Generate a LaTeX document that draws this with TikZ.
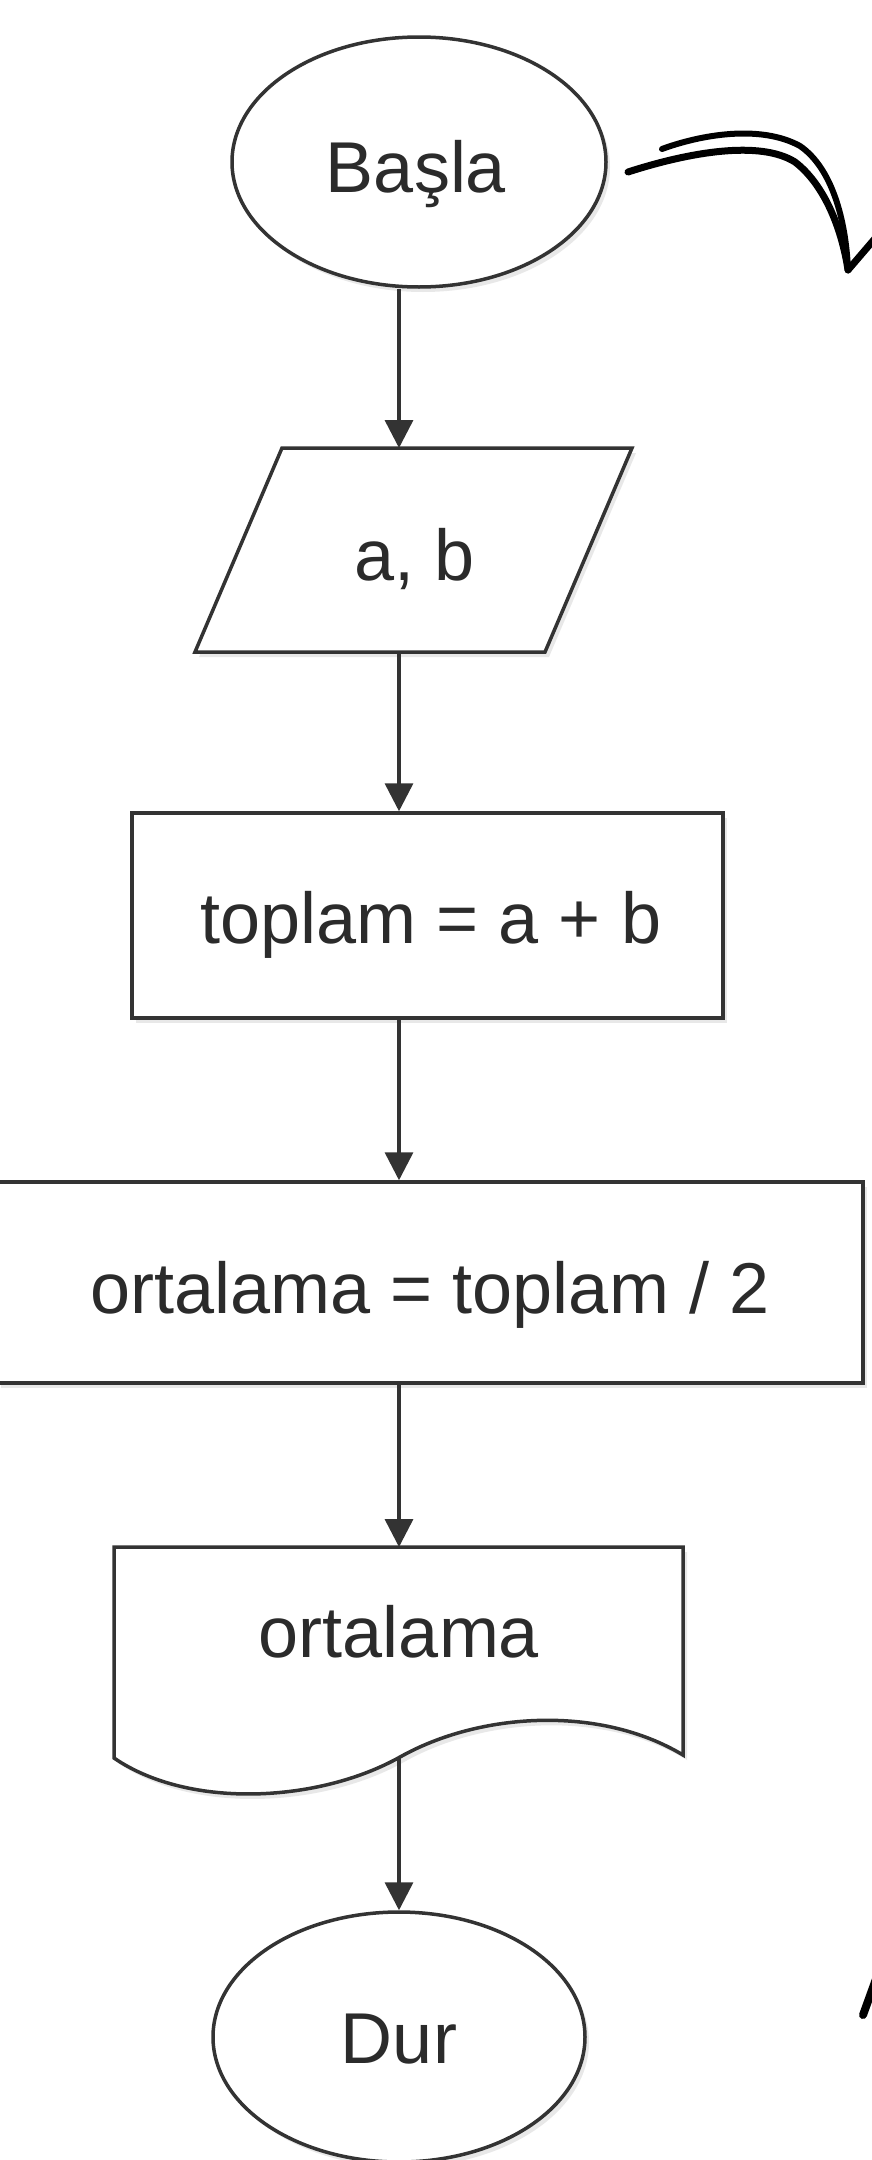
\documentclass[tikz,border=0pt]{standalone}
\usepackage{fontspec}
\setmainfont{Liberation Sans}
\usetikzlibrary{arrows.meta,shapes.geometric,shadows}
\definecolor{edge}{HTML}{333333}
\definecolor{txt}{HTML}{2B2B2B}
\begin{document}
\begin{tikzpicture}[x=1pt,y=-1pt,
  shp/.style={draw=edge, line width=3.5pt, fill=white, drop shadow={opacity=0.18, shadow xshift=4pt, shadow yshift=-5pt}},
  lbl/.style={text=txt, font=\fontsize{72}{80}\selectfont, inner sep=0pt, anchor=base},
  conn/.style={draw=edge, line width=3.5pt, -{Triangle[width=28pt,length=28pt]}},
  pen/.style={draw=black, line width=7pt, line cap=round, line join=round}]
\fill[white] (0,0) rectangle (872,2160);
\useasboundingbox (0,0) rectangle (872,2160);
\clip (0,0) rectangle (872,2160);

% shapes
\node[shp, ellipse, minimum width=374pt, minimum height=250pt, inner sep=0pt] (basla) at (419,162) {};
\node[minimum width=350pt, minimum height=204pt, inner sep=0pt, outer sep=0pt] (ab) at (413,550) {};
\path[shp] (282,448) -- (632,448) -- (545,652) -- (195,652) -- cycle;
\node[shp, rectangle, minimum width=591pt, minimum height=205pt, inner sep=0pt] (top) at (427.5,915.5) {};
\node[shp, rectangle, minimum width=866pt, minimum height=201pt, inner sep=0pt] (ort) at (430,1282.5) {};
\node[minimum width=569pt, minimum height=210pt, inner sep=0pt, outer sep=0pt] (doc) at (398.5,1652) {};
\path[shp] (114,1547) -- (683,1547) -- (683,1755)
  .. controls (600,1705) and (480,1712) .. (400,1757)
  .. controls (320,1802) and (190,1810) .. (114,1758) -- cycle;
\coordinate (wv) at (399,1757);
\node[shp, ellipse, minimum width=372pt, minimum height=250pt, inner sep=0pt] (dur) at (399,2037) {};

% connectors
\draw[conn] (basla.south -| dur.north) -- (ab.north -| dur.north);
\draw[conn] (ab.south -| dur.north) -- (top.north -| dur.north);
\draw[conn] (top.south -| dur.north) -- (ort.north -| dur.north);
\draw[conn] (ort.south -| dur.north) -- (doc.north -| dur.north);
\draw[conn] (wv) -- (dur.north);

% texts
\node[lbl] (t1) at (416,192) {Başla};
\node[lbl] (t2) at (415,580) {a, b};
\node[lbl] (t3) at (431,943) {toplam = a + b};
\node[lbl] (t4) at (430,1313) {ortalama = toplam / 2};
\node[lbl] (t5) at (399,1657) {ortalama};
\node[lbl] (t6) at (399,2063) {Dur};

% hand-drawn decorations
\draw[pen] (628,172) .. controls (690,152) and (760,140) .. (795,162) .. controls (825,185) and (842,230) .. (848,270);
\draw[pen, line width=6pt] (662,149) .. controls (700,135) and (760,124) .. (800,146) .. controls (832,168) and (846,220) .. (848,270);
\draw[pen] (848,270) -- (884,228);
\draw[pen, line width=8pt] (863,2015) -- (880,1968);
\end{tikzpicture}
\end{document}
